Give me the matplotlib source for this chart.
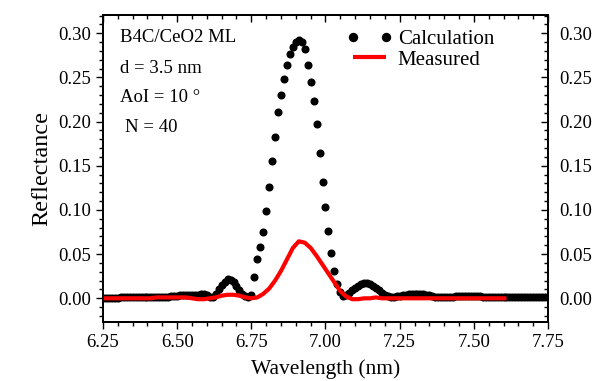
import numpy as np
import matplotlib
matplotlib.use('Agg')
import matplotlib.pyplot as plt
from matplotlib.ticker import MultipleLocator, FormatStrFormatter

plt.rcParams['font.family'] = ['Liberation Serif', 'DejaVu Serif']

# 计算曲线 (Calculation), 6.25 -> 7.75 step 0.01
calc_start, calc_step = 6.25, 0.01
calc_R = [
    0.000, 0.000, 0.000, 0.000, 0.000, 0.000, 0.001, 0.001, 0.001, 0.001,   # 6.25-6.34
    0.001, 0.001, 0.001, 0.001, 0.001, 0.001, 0.001, 0.001, 0.001, 0.001,   # 6.35-6.44
    0.002, 0.002, 0.002, 0.003, 0.003, 0.003, 0.004, 0.004, 0.004, 0.004,   # 6.45-6.54
    0.004, 0.004, 0.004, 0.005, 0.005, 0.004, 0.002, 0.002, 0.005, 0.010,   # 6.55-6.64
    0.015, 0.019, 0.022, 0.021, 0.018, 0.014, 0.009, 0.005, 0.003, 0.002,   # 6.65-6.74
    0.004, 0.024, 0.044, 0.058, 0.075, 0.099, 0.126, 0.155, 0.183, 0.211,   # 6.75-6.84
    0.230, 0.248, 0.264, 0.277, 0.285, 0.290, 0.292, 0.290, 0.282, 0.264,   # 6.85-6.94
    0.245, 0.223, 0.197, 0.164, 0.132, 0.103, 0.076, 0.051, 0.031, 0.016,   # 6.95-7.04
    0.007, 0.003, 0.004, 0.006, 0.009, 0.012, 0.014, 0.016, 0.017, 0.017,   # 7.05-7.14
    0.016, 0.014, 0.012, 0.009, 0.006, 0.004, 0.003, 0.002, 0.002, 0.003,   # 7.15-7.24
    0.003, 0.004, 0.004, 0.005, 0.005, 0.005, 0.005, 0.005, 0.005, 0.004,   # 7.25-7.34
    0.004, 0.003, 0.002, 0.002, 0.001, 0.001, 0.001, 0.002, 0.002, 0.003,   # 7.35-7.44
    0.003, 0.003, 0.003, 0.003, 0.003, 0.003, 0.003, 0.003, 0.002, 0.002,   # 7.45-7.54
    0.002, 0.001, 0.001, 0.001, 0.001, 0.001, 0.001, 0.001, 0.001, 0.001,   # 7.55-7.64
    0.001, 0.001, 0.001, 0.001, 0.001, 0.001, 0.001, 0.001, 0.001, 0.001,   # 7.65-7.74
    0.001,                                                                   # 7.75
]

# 测量曲线 (Measured), 6.25 -> 7.61 step 0.02
meas_start, meas_step = 6.25, 0.02
meas_R = [
    0.000, 0.000, 0.000, 0.000, 0.000, 0.000, 0.000, 0.000, 0.000, 0.001,   # 6.25-6.43
    0.001, 0.001, 0.001, 0.001, 0.001, 0.000, -0.001, -0.001, 0.000, 0.001,  # 6.45-6.63
    0.003, 0.004, 0.004, 0.003, 0.001, 0.000, 0.001, 0.005, 0.011, 0.020,   # 6.65-6.83
    0.031, 0.044, 0.057, 0.0645, 0.063, 0.057, 0.048, 0.038, 0.028, 0.018,  # 6.85-7.03
    0.008, 0.002, -0.001, -0.001, 0.000, 0.000, 0.001, 0.000, 0.000, 0.000,  # 7.05-7.23
    0.000, 0.000, 0.000, 0.000, 0.000, 0.000, 0.000, 0.000, 0.000, 0.000,   # 7.25-7.43
    0.000, 0.000, 0.000, 0.000, 0.000, 0.000, 0.000, 0.000, 0.000,          # 7.45-7.61
]

calc_x = calc_start + calc_step * np.arange(len(calc_R))
meas_x = meas_start + meas_step * np.arange(len(meas_R))

xlim = (6.25, 7.75)
ylim = (-0.0268, 0.3207)

fig = plt.figure(figsize=(6.03, 3.81), dpi=100)
ax = fig.add_axes([0.1708, 0.1549, 0.738, 0.8058])

ax.plot(calc_x, calc_R, linestyle='none', marker='o', markersize=4.8,
        color='black', label='Calculation')
ax.plot(meas_x, meas_R, color='#ff0000', linewidth=3, label='Measured',
        solid_capstyle='butt')

ax.set_xlim(*xlim)
ax.set_ylim(*ylim)
ax.xaxis.set_major_locator(MultipleLocator(0.25))
ax.xaxis.set_minor_locator(MultipleLocator(0.05))
ax.yaxis.set_major_locator(MultipleLocator(0.05))
ax.yaxis.set_minor_locator(MultipleLocator(0.01))
ax.xaxis.set_major_formatter(FormatStrFormatter('%.2f'))
ax.yaxis.set_major_formatter(FormatStrFormatter('%.2f'))
ax.tick_params(which='both', direction='out', labelsize=13.5, width=1,
               top=False, right=False)
ax.tick_params(which='major', length=5)
ax.tick_params(which='minor', length=3)
for sp in ax.spines.values():
    sp.set_linewidth(1.2)

# 右轴: 刻度朝内, 带标签
axr = ax.twinx()
axr.set_ylim(*ylim)
axr.yaxis.set_major_locator(MultipleLocator(0.05))
axr.yaxis.set_minor_locator(MultipleLocator(0.01))
axr.yaxis.set_major_formatter(FormatStrFormatter('%.2f'))
axr.tick_params(which='both', direction='in', labelsize=13.5, width=1, pad=8)
axr.tick_params(which='major', length=5)
axr.tick_params(which='minor', length=3)

# 上轴: 刻度朝内, 无标签
axt = ax.twiny()
axt.set_xlim(*xlim)
axt.xaxis.set_major_locator(MultipleLocator(0.25))
axt.xaxis.set_minor_locator(MultipleLocator(0.05))
axt.tick_params(which='both', direction='in', width=1, labeltop=False)
axt.tick_params(which='major', length=5)
axt.tick_params(which='minor', length=3)
for a in (axr, axt):
    for sp in a.spines.values():
        sp.set_linewidth(1.2)

ax.set_xlabel('Wavelength (nm)', fontsize=15.5, labelpad=6)
ax.set_ylabel('Reflectance', fontsize=17.5, labelpad=4)

ax.text(0.038, 0.928, 'B4C/CeO2 ML', transform=ax.transAxes, fontsize=13.5,
        va='center', ha='left')
ax.text(0.038, 0.827, 'd = 3.5 nm', transform=ax.transAxes, fontsize=13.5,
        va='center', ha='left')
ax.text(0.038, 0.730, 'AoI = 10 \u00b0', transform=ax.transAxes, fontsize=13.5,
        va='center', ha='left')
ax.text(0.049, 0.632, 'N = 40', transform=ax.transAxes, fontsize=13.5,
        va='center', ha='left')

leg = ax.legend(loc='upper left', bbox_to_anchor=(0.51, 1.007), frameon=False,
                fontsize=15, handlelength=2.2, handletextpad=0.25,
                labelspacing=0.05, borderpad=0.3, numpoints=2,
                markerscale=1.2)

fig.savefig('out.png', dpi=100)
